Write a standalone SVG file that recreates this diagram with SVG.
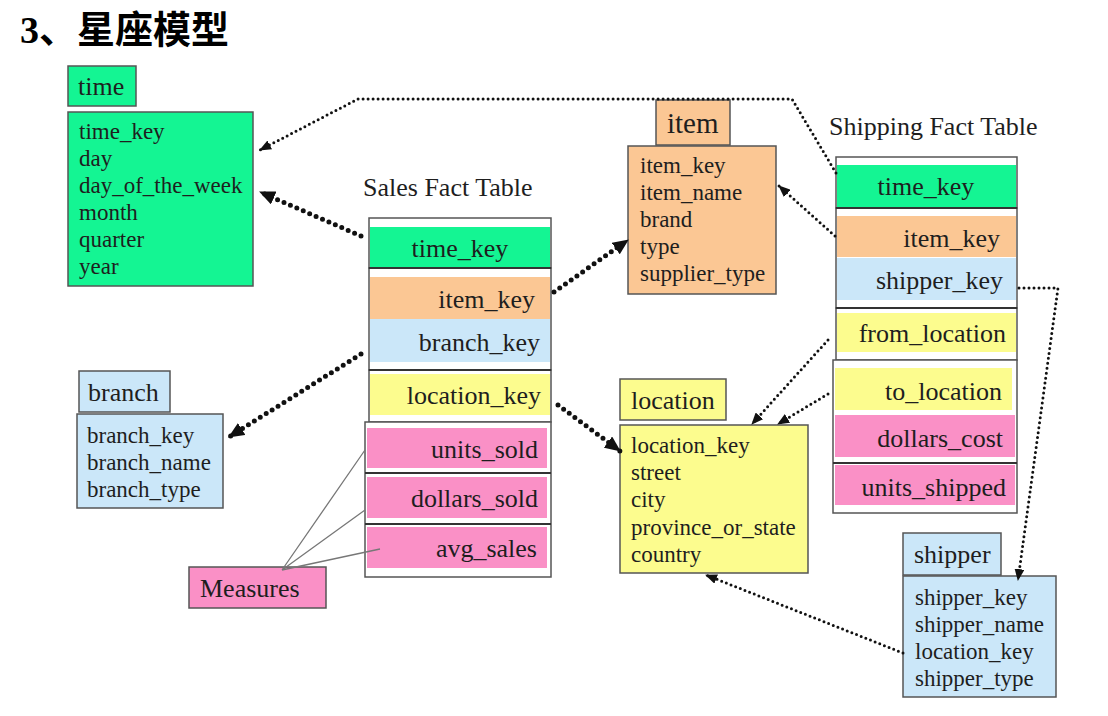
<svg xmlns="http://www.w3.org/2000/svg" width="1108" height="716" viewBox="0 0 1108 716">
<defs>
<style>
text{font-family:"Liberation Serif","Times New Roman",Tinos,"DejaVu Serif",serif;fill:#1e1e1e;font-size:23px}
.t{font-family:"Liberation Serif","Noto Sans CJK SC",serif;font-size:38px;font-weight:bold;fill:#000}
.h{font-size:26px}
.r{text-anchor:end;font-size:26px}
.c{text-anchor:middle;font-size:26px}
.box{stroke:#555;stroke-width:1.5}
.frame{fill:#fff;stroke:#555;stroke-width:1.5}
.div{stroke:#333;stroke-width:2}
.g{fill:#14f593}.o{fill:#fbc794}.b{fill:#cbe7f9}.y{fill:#fcfc8e}.p{fill:#fa90c6}
.thick{fill:none;stroke:#111;stroke-width:5;stroke-dasharray:0 7;stroke-linecap:round}
.thin{fill:none;stroke:#111;stroke-width:3;stroke-dasharray:0 5;stroke-linecap:round}
.meas{fill:none;stroke:#777;stroke-width:1.3}
</style>
<marker id="ah" viewBox="0 0 16 14" refX="15" refY="7" markerWidth="16" markerHeight="14" markerUnits="userSpaceOnUse" orient="auto"><path d="M0,0 L16,7 L0,14 Z" fill="#111"/></marker>
<marker id="as" viewBox="0 0 12 10" refX="11" refY="5" markerWidth="12" markerHeight="10" markerUnits="userSpaceOnUse" orient="auto"><path d="M0,0 L12,5 L0,10 Z" fill="#111"/></marker>
</defs>
<rect width="1108" height="716" fill="#fff"/>
<text class="t" x="20" y="43">3、星座模型</text>

<g id="time">
<rect class="box g" x="68" y="66" width="68" height="40"/>
<text class="h" x="78" y="95">time</text>
<rect class="box g" x="68" y="112" width="185" height="174"/>
<text x="79" y="139">time_key</text><text x="79" y="166">day</text><text x="79" y="193">day_of_the_week</text><text x="79" y="220">month</text><text x="79" y="247">quarter</text><text x="79" y="274">year</text>
</g>

<g id="item">
<rect class="box o" x="656" y="100" width="74" height="45"/>
<text x="667" y="133" style="font-size:29px">item</text>
<rect class="box o" x="628" y="146" width="148" height="148"/>
<text x="640" y="173">item_key</text><text x="640" y="200">item_name</text><text x="640" y="227">brand</text><text x="640" y="254">type</text><text x="640" y="281">supplier_type</text>
</g>

<g id="branch">
<rect class="box b" x="79" y="371" width="91" height="41"/>
<text class="h" x="88" y="401">branch</text>
<rect class="box b" x="77" y="414" width="146" height="94"/>
<text x="87" y="443">branch_key</text><text x="87" y="470">branch_name</text><text x="87" y="497">branch_type</text>
</g>

<g id="location">
<rect class="box y" x="620" y="379" width="106" height="41"/>
<text class="h" x="631" y="409">location</text>
<rect class="box y" x="620" y="425" width="188" height="148"/>
<text x="631" y="453">location_key</text><text x="631" y="480">street</text><text x="631" y="507">city</text><text x="631" y="535">province_or_state</text><text x="631" y="562">country</text>
</g>

<g id="shipper">
<rect class="box b" x="903" y="533" width="98" height="42"/>
<text class="h" x="914" y="563">shipper</text>
<rect class="box b" x="903" y="576" width="153" height="121"/>
<text x="915" y="605">shipper_key</text><text x="915" y="632">shipper_name</text><text x="915" y="659">location_key</text><text x="915" y="686">shipper_type</text>
</g>

<g id="measures">
<rect class="box p" x="189" y="567" width="137" height="41"/>
<text class="h" x="200" y="597">Measures</text>
</g>

<g id="sales">
<text class="h" x="363" y="196">Sales Fact Table</text>
<rect class="frame" x="369" y="218" width="182" height="50"/>
<rect class="g" x="370" y="227" width="180" height="41"/>
<rect class="frame" x="369" y="268" width="182" height="102"/>
<rect class="o" x="370" y="277" width="180" height="42"/>
<rect class="b" x="370" y="319" width="180" height="43"/>
<rect class="frame" x="369" y="370" width="182" height="52"/>
<rect class="y" x="370" y="374" width="180" height="41"/>
<rect class="frame" x="365" y="422" width="186" height="155"/>
<rect class="p" x="367" y="428" width="180" height="40"/>
<line class="div" x1="365" y1="473" x2="551" y2="473"/>
<rect class="p" x="367" y="477" width="180" height="41"/>
<line class="div" x1="365" y1="524" x2="551" y2="524"/>
<rect class="p" x="367" y="527" width="180" height="41"/>
<line class="div" x1="369" y1="268" x2="551" y2="268"/>
<line class="div" x1="369" y1="370" x2="551" y2="370"/>
<text class="c" x="460" y="257">time_key</text>
<text class="r" x="535" y="308">item_key</text>
<text class="r" x="540" y="351">branch_key</text>
<text class="r" x="541" y="404">location_key</text>
<text class="r" x="538" y="458">units_sold</text>
<text class="r" x="538" y="507">dollars_sold</text>
<text class="r" x="537" y="557">avg_sales</text>
</g>

<g id="shipping">
<text class="h" x="829" y="135">Shipping Fact Table</text>
<rect class="frame" x="836" y="157" width="181" height="51"/>
<rect class="g" x="837" y="165" width="179" height="42"/>
<rect class="frame" x="836" y="208" width="181" height="100"/>
<rect class="o" x="837" y="216" width="179" height="41"/>
<rect class="b" x="837" y="258" width="179" height="42"/>
<rect class="frame" x="836" y="308" width="181" height="52"/>
<rect class="y" x="837" y="313" width="179" height="39"/>
<rect class="frame" x="833" y="360" width="184" height="153"/>
<rect class="y" x="835" y="368" width="177" height="42"/>
<rect class="p" x="835" y="415" width="180" height="42"/>
<line class="div" x1="833" y1="463" x2="1017" y2="463"/>
<rect class="p" x="835" y="465" width="180" height="40"/>
<line class="div" x1="836" y1="208" x2="1017" y2="208"/>
<line class="div" x1="836" y1="308" x2="1017" y2="308"/>
<text class="c" x="926" y="195">time_key</text>
<text class="r" x="1000" y="247">item_key</text>
<text class="r" x="1003" y="289">shipper_key</text>
<text class="r" x="1006" y="342">from_location</text>
<text class="r" x="1002" y="400">to_location</text>
<text class="r" x="1003" y="447">dollars_cost</text>
<text class="r" x="1006" y="496">units_shipped</text>
</g>

<g id="connectors">
<path class="thin" d="M836,173 L792,99 L358,99 L260,150" marker-end="url(#as)"/>
<path class="thick" d="M361,236 L260,192" marker-end="url(#ah)"/>
<path class="thick" d="M554,292 L628,240" marker-end="url(#ah)"/>
<path class="thin" d="M835,236 L779,186" marker-end="url(#as)"/>
<path class="thick" d="M361,354 L229,437" marker-end="url(#ah)"/>
<path class="thick" d="M558,405 L620,451" marker-end="url(#ah)"/>
<path class="thin" d="M828,340 L752,424" marker-end="url(#as)"/>
<path class="thin" d="M828,394 L778,424" marker-end="url(#as)"/>
<path class="thin" d="M1019,288 L1058,288 L1018,580" marker-end="url(#as)"/>
<path class="thin" d="M903,653 L706,575" marker-end="url(#as)"/>
<path class="meas" d="M282,570 L365,450 M282,570 L365,510 M282,570 L380,549"/>
</g>
</svg>
